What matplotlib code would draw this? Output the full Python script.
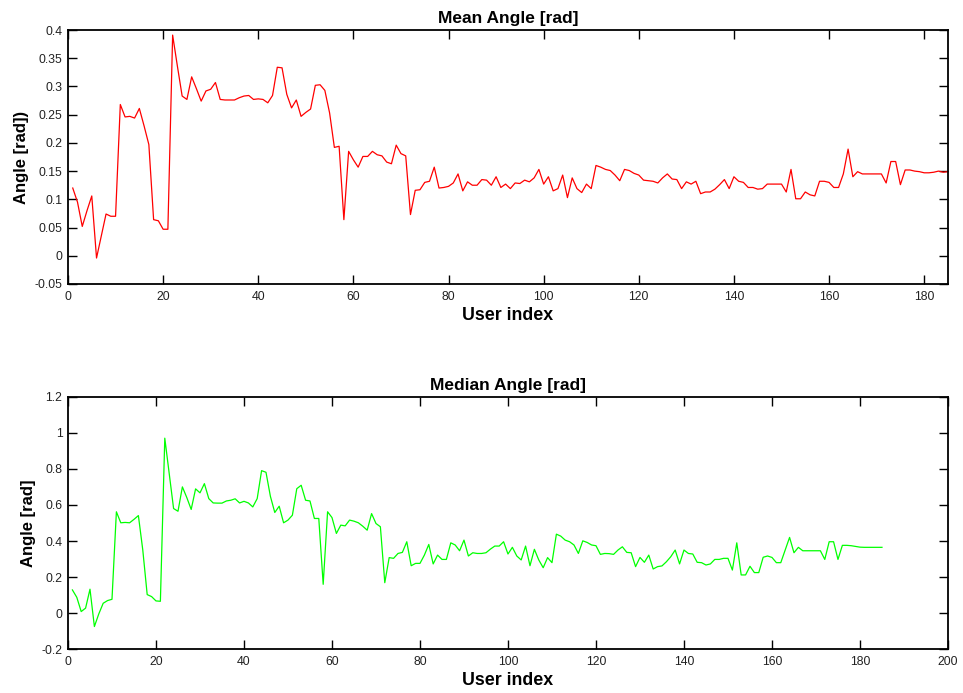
import numpy as np
import matplotlib
matplotlib.use("Agg")
import matplotlib.pyplot as plt

plt.rcParams['font.family'] = ['Liberation Sans', 'DejaVu Sans']

# per-user mean angle (rad), users 1..185
mean_angle = [
    0.120, 0.095, 0.052, 0.080, 0.106, -0.004, 0.035, 0.074, 0.070, 0.070,
    0.268, 0.246, 0.247, 0.244, 0.261, 0.230, 0.197, 0.064, 0.062, 0.047,
    0.047, 0.391, 0.336, 0.283, 0.277, 0.317, 0.296, 0.274, 0.292, 0.295,
    0.307, 0.277, 0.276, 0.276, 0.276, 0.280, 0.283, 0.284, 0.277, 0.278,
    0.277, 0.271, 0.284, 0.334, 0.333, 0.286, 0.262, 0.276, 0.247, 0.254,
    0.260, 0.302, 0.303, 0.293, 0.253, 0.192, 0.194, 0.064, 0.185, 0.170,
    0.157, 0.176, 0.176, 0.185, 0.179, 0.177, 0.166, 0.163, 0.196, 0.181,
    0.177, 0.073, 0.116, 0.117, 0.130, 0.132, 0.157, 0.120, 0.121, 0.123,
    0.129, 0.145, 0.115, 0.131, 0.125, 0.125, 0.135, 0.134, 0.125, 0.140,
    0.121, 0.127, 0.119, 0.129, 0.128, 0.134, 0.131, 0.138, 0.153, 0.127,
    0.140, 0.115, 0.119, 0.143, 0.103, 0.138, 0.119, 0.112, 0.127, 0.119,
    0.160, 0.157, 0.153, 0.151, 0.143, 0.133, 0.153, 0.151, 0.146, 0.143,
    0.134, 0.133, 0.132, 0.129, 0.138, 0.145, 0.136, 0.135, 0.119, 0.131,
    0.127, 0.132, 0.110, 0.113, 0.113, 0.118, 0.126, 0.135, 0.119, 0.140,
    0.132, 0.130, 0.121, 0.121, 0.118, 0.119, 0.127, 0.127, 0.127, 0.127,
    0.113, 0.153, 0.101, 0.101, 0.113, 0.108, 0.106, 0.132, 0.132, 0.130,
    0.121, 0.121, 0.145, 0.189, 0.140, 0.149, 0.145, 0.145, 0.145, 0.145,
    0.145, 0.129, 0.167, 0.167, 0.126, 0.152, 0.152, 0.150, 0.149, 0.147,
    0.147, 0.148, 0.150, 0.148, 0.149,
]

# per-user median angle (rad), users 1..185
median_angle = [
    0.129, 0.088, 0.009, 0.028, 0.133, -0.074, -0.004, 0.055, 0.070, 0.077,
    0.562, 0.501, 0.503, 0.501, 0.520, 0.541, 0.350, 0.103, 0.092, 0.068,
    0.066, 0.970, 0.773, 0.580, 0.565, 0.700, 0.641, 0.575, 0.689, 0.667,
    0.718, 0.635, 0.611, 0.610, 0.610, 0.622, 0.626, 0.634, 0.611, 0.620,
    0.611, 0.589, 0.635, 0.790, 0.781, 0.648, 0.558, 0.593, 0.501, 0.516,
    0.543, 0.690, 0.709, 0.626, 0.622, 0.525, 0.525, 0.160, 0.562, 0.530,
    0.442, 0.488, 0.484, 0.516, 0.510, 0.501, 0.482, 0.460, 0.552, 0.497,
    0.479, 0.169, 0.308, 0.304, 0.331, 0.337, 0.396, 0.263, 0.276, 0.276,
    0.322, 0.381, 0.273, 0.322, 0.298, 0.298, 0.390, 0.378, 0.346, 0.405,
    0.317, 0.335, 0.331, 0.331, 0.335, 0.355, 0.372, 0.372, 0.396, 0.328,
    0.365, 0.317, 0.295, 0.372, 0.263, 0.354, 0.295, 0.252, 0.308, 0.280,
    0.438, 0.427, 0.405, 0.396, 0.378, 0.331, 0.401, 0.392, 0.378, 0.374,
    0.326, 0.331, 0.330, 0.326, 0.350, 0.368, 0.337, 0.335, 0.258, 0.309,
    0.282, 0.322, 0.245, 0.258, 0.262, 0.285, 0.313, 0.350, 0.273, 0.350,
    0.331, 0.328, 0.282, 0.280, 0.267, 0.273, 0.298, 0.298, 0.304, 0.304,
    0.239, 0.390, 0.212, 0.212, 0.260, 0.225, 0.225, 0.310, 0.317, 0.309,
    0.280, 0.280, 0.350, 0.420, 0.335, 0.365, 0.346, 0.346, 0.346, 0.346,
    0.346, 0.298, 0.396, 0.396, 0.298, 0.376, 0.376, 0.374, 0.370, 0.366,
    0.365, 0.365, 0.365, 0.365, 0.365,
]

users = np.arange(1, len(mean_angle) + 1)


def matlab_style(ax):
    for s in ax.spines.values():
        s.set_linewidth(1.3)
        s.set_color('black')
    ax.tick_params(direction='in', top=True, right=True, length=6.5,
                   width=1.0, labelsize=8.8, colors='black',
                   labelcolor='#222222')
    ax.tick_params(axis='x', pad=5)
    ax.tick_params(axis='y', pad=4)
    ax.yaxis.set_major_formatter(plt.FuncFormatter(lambda v, p: '%g' % round(v, 4)))


fig = plt.figure(figsize=(9.63, 6.93), dpi=100)
ax1 = fig.add_axes([0.0706, 0.5902, 0.9138, 0.3665])
ax2 = fig.add_axes([0.0706, 0.0631, 0.9138, 0.3645])

ax1.plot(users, mean_angle, color='red', linewidth=0.9)
ax1.set_xlim(0, 185)
ax1.set_ylim(-0.05, 0.4)
ax1.set_xticks(np.arange(0, 181, 20))
ax1.set_yticks(np.arange(-0.05, 0.401, 0.05))
ax1.set_title('Mean Angle [rad]', fontsize=12.5, fontweight='bold', pad=5)
ax1.set_xlabel('User index', fontsize=12.8, fontweight='bold', labelpad=3)
ax1.set_ylabel('Angle [rad])', fontsize=12, fontweight='bold', labelpad=4)
matlab_style(ax1)

ax2.plot(users, median_angle, color='#00ff00', linewidth=0.9)
ax2.set_xlim(0, 200)
ax2.set_ylim(-0.2, 1.2)
ax2.set_xticks(np.arange(0, 201, 20))
ax2.set_yticks(np.arange(-0.2, 1.201, 0.2))
ax2.set_title('Median Angle [rad]', fontsize=12.5, fontweight='bold', pad=5)
ax2.set_xlabel('User index', fontsize=12.8, fontweight='bold', labelpad=3)
ax2.set_ylabel('Angle [rad]', fontsize=12, fontweight='bold', labelpad=4)
matlab_style(ax2)

fig.savefig('out.png', dpi=100, facecolor='white')
